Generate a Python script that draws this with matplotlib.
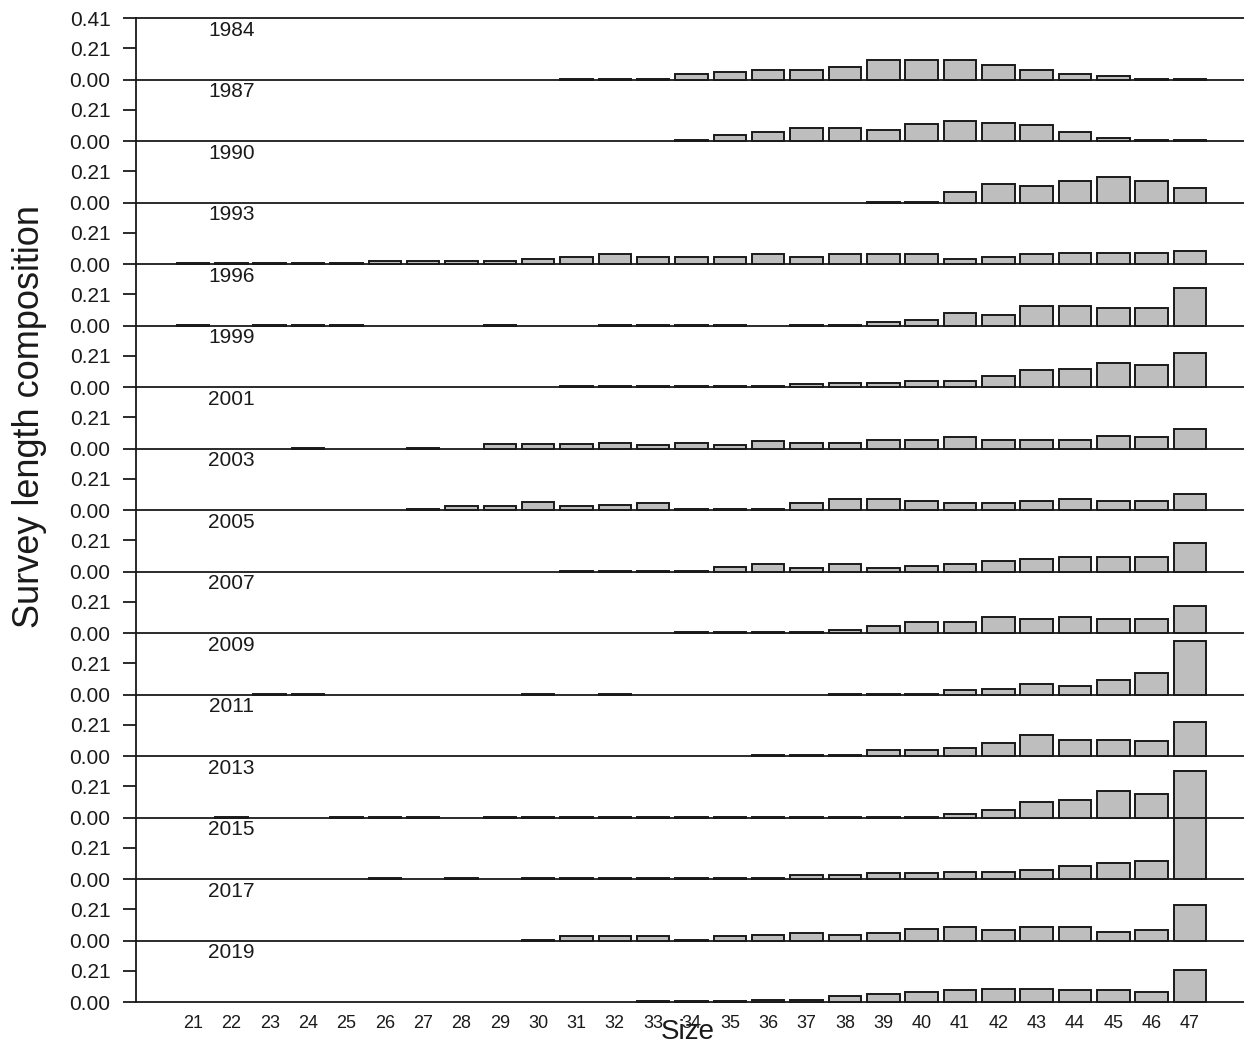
import numpy as np
import matplotlib.pyplot as plt

plt.rcParams['font.family'] = ['Liberation Sans', 'DejaVu Sans']

sizes = [21, 22, 23, 24, 25, 26, 27, 28, 29, 30, 31, 32, 33, 34,
         35, 36, 37, 38, 39, 40, 41, 42, 43, 44, 45, 46, 47]
years = ['1984', '1987', '1990', '1993', '1996', '1999', '2001', '2003',
         '2005', '2007', '2009', '2011', '2013', '2015', '2017', '2019']

N = None
# proportions by size 21..47 (None = no bar)
y1984 = [N, N, N, N, N, N, N, N, N, N, 0.004, 0.004, 0.004, 0.036, 0.049, 0.062, 0.062,
         0.085, 0.133, 0.133, 0.133, 0.096, 0.062, 0.036, 0.022, 0.006, 0.006]
y1987 = [N, N, N, N, N, N, N, N, N, N, N, N, N, 0.005, 0.042, 0.062, 0.089,
         0.089, 0.073, 0.111, 0.136, 0.122, 0.109, 0.062, 0.022, 0.005, 0.005]
y1990 = [N, N, N, N, N, N, N, N, N, N, N, N, N, N, N, N, N,
         N, 0.004, 0.004, 0.071, 0.122, 0.109, 0.145, 0.169, 0.145, 0.096]
y1993 = [0.004, 0.004, 0.004, 0.004, 0.004, 0.022, 0.022, 0.022, 0.022, 0.036, 0.049, 0.064, 0.049, 0.049,
         0.049, 0.064, 0.049, 0.064, 0.064, 0.064, 0.036, 0.049, 0.064, 0.076, 0.076, 0.076, 0.087]
y1996 = [0.004, N, 0.004, 0.004, 0.004, N, N, N, 0.004, N, N, 0.004, 0.004, 0.004,
         0.004, N, 0.004, 0.004, 0.022, 0.036, 0.085, 0.071, 0.133, 0.133, 0.12, 0.12, 0.253]
y1999 = [N, N, N, N, N, N, N, N, N, N, 0.004, 0.004, 0.004, 0.004,
         0.004, 0.004, 0.022, 0.027, 0.027, 0.04, 0.04, 0.076, 0.111, 0.122, 0.16, 0.149, 0.229]
y2001 = [N, N, N, 0.004, N, N, 0.004, N, 0.027, 0.027, 0.027, 0.038, 0.024, 0.038,
         0.024, 0.049, 0.038, 0.038, 0.06, 0.06, 0.076, 0.06, 0.06, 0.06, 0.085, 0.076, 0.131]
y2003 = [N, N, N, N, N, N, 0.004, 0.024, 0.024, 0.051, 0.024, 0.033, 0.049, 0.004,
         0.004, 0.004, 0.049, 0.071, 0.071, 0.06, 0.049, 0.049, 0.06, 0.071, 0.06, 0.06, 0.107]
y2005 = [N, N, N, N, N, N, N, N, N, N, 0.004, 0.004, 0.004, 0.004,
         0.027, 0.047, 0.024, 0.047, 0.022, 0.036, 0.047, 0.071, 0.085, 0.096, 0.096, 0.096, 0.189]
y2007 = [N, N, N, N, N, N, N, N, N, N, N, N, N, 0.004,
         0.004, 0.004, 0.004, 0.022, 0.049, 0.071, 0.071, 0.109, 0.096, 0.109, 0.096, 0.096, 0.18]
y2009 = [N, N, 0.004, 0.004, N, N, N, N, N, 0.004, N, 0.004, N, N,
         N, N, N, 0.004, 0.004, 0.004, 0.027, 0.036, 0.073, 0.056, 0.096, 0.145, 0.36]
y2011 = [N, N, N, N, N, N, N, N, N, N, N, N, N, N,
         N, 0.004, 0.004, 0.004, 0.038, 0.038, 0.051, 0.087, 0.138, 0.109, 0.109, 0.098, 0.229]
y2013 = [N, 0.004, N, N, 0.004, 0.004, 0.004, N, 0.004, 0.004, 0.004, 0.004, 0.004, 0.004,
         0.004, 0.004, 0.004, 0.004, 0.004, 0.004, 0.022, 0.047, 0.104, 0.12, 0.18, 0.156, 0.311]
y2015 = [N, N, N, N, N, 0.004, N, 0.004, N, 0.004, 0.004, 0.004, 0.004, 0.004,
         0.004, 0.004, 0.027, 0.027, 0.038, 0.038, 0.049, 0.049, 0.062, 0.085, 0.109, 0.122, 0.41]
y2017 = [N, N, N, N, N, N, N, N, N, 0.004, 0.027, 0.027, 0.027, 0.006,
         0.027, 0.04, 0.051, 0.04, 0.051, 0.076, 0.089, 0.071, 0.089, 0.089, 0.06, 0.071, 0.24]
y2019 = [N, N, N, N, N, N, N, N, N, N, N, N, 0.004, 0.004,
         0.004, 0.016, 0.016, 0.04, 0.053, 0.067, 0.078, 0.089, 0.089, 0.078, 0.078, 0.067, 0.215]

comps = [y1984, y1987, y1990, y1993, y1996, y1999, y2001, y2003,
         y2005, y2007, y2009, y2011, y2013, y2015, y2017, y2019]

ymax = 0.41
ink = '#1a1a1a'

fig, axes = plt.subplots(len(years), 1, figsize=(12.44, 10.49), dpi=100, sharex=True)
fig.subplots_adjust(left=0.1093, right=1.0, top=0.9828, bottom=0.0448, hspace=0)

for i, (ax, yr, vals) in enumerate(zip(axes, years, comps)):
    x = [s for s, v in zip(sizes, vals) if v is not None]
    h = [v for v in vals if v is not None]
    ax.bar(x, h, width=0.85, color='#bebebe', edgecolor=ink, linewidth=1.4,
           clip_on=False, zorder=3)
    ax.set_facecolor('none')
    ax.set_xlim(19.51, 48.41)
    ax.set_ylim(0, ymax)
    ax.spines['right'].set_visible(False)
    ax.spines['top'].set_visible(i == 0)
    for sp in ['left', 'bottom', 'top']:
        ax.spines[sp].set_linewidth(1.3)
        ax.spines[sp].set_color(ink)
    if i == 0:
        ax.set_yticks([0, 0.21, 0.41])
        ax.set_yticklabels(['0.00', '0.21', '0.41'])
    else:
        ax.set_yticks([0, 0.21])
        ax.set_yticklabels(['0.00', '0.21'])
    ax.tick_params(axis='y', direction='out', length=9.4, width=1.3, color=ink,
                   pad=9, labelsize=15, labelcolor=ink)
    ax.text(22, 0.8, yr, transform=ax.get_xaxis_transform(), ha='center', va='center',
            fontsize=15, color=ink)
    if i < len(years) - 1:
        ax.tick_params(axis='x', length=0, labelbottom=False)

axes[-1].set_xticks(sizes)
axes[-1].set_xticklabels([str(s) for s in sizes])
axes[-1].tick_params(axis='x', length=0, pad=9, labelsize=13, labelcolor=ink)

fig.text(688 / 1244, 1 - 1032 / 1049, 'Size', ha='center', va='center', fontsize=20, color=ink)
fig.text(30 / 1244, 1 - 416 / 1049, 'Survey length composition', rotation=90,
         ha='center', va='center', fontsize=26, color=ink)

fig.savefig('out.png', dpi=100)
